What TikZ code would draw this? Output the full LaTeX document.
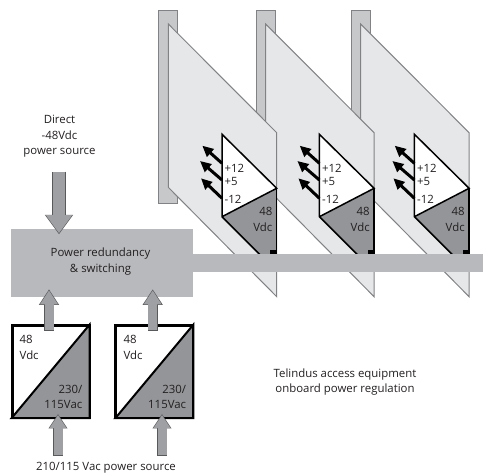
\documentclass[tikz,border=0pt]{standalone}
\usepackage{fontspec}
\setmainfont{Open Sans}
\usetikzlibrary{arrows.meta}

\definecolor{postgrey}{HTML}{C7C8CA}
\definecolor{cardgrey}{HTML}{E6E7E8}
\definecolor{edgegrey}{HTML}{808285}
\definecolor{busgrey}{HTML}{B8B9BC}
\definecolor{darkgrey}{HTML}{939598}
\definecolor{feedgrey}{HTML}{9FA0A3}
\definecolor{feededge}{HTML}{58595B}
\definecolor{textgrey}{HTML}{231F20}

\tikzset{
  tag/.style={inner sep=0pt,text=textgrey,font=\fontsize{11.4}{15.5}\selectfont},
  supply/.style={draw=black,line width=2pt,fill=white,inner sep=0pt,minimum width=76pt,minimum height=91.5pt},
  bus/.style={fill=busgrey,inner sep=0pt},
  outline/.style={draw=edgegrey,line width=1pt},
  regulator/.style={draw=black,line width=1.5pt,line join=miter},
  railarrow/.style={draw=black,line width=3pt,-{Triangle[length=11pt,width=10pt]}}
}

% two passes, outline first and grey on top
\newcommand{\feedarrow}[5]{
  \draw[feededge,line width=#3+1pt,-{Triangle[length=#4+1.5pt,width=#5+2pt]}] #1 -- #2;
  \draw[feedgrey,line width=#3,shorten <=0.5pt,shorten >=1.1pt,-{Triangle[length=#4,width=#5]}] #1 -- #2;
}

\begin{document}
\begin{tikzpicture}[x=1pt,y=-1pt]
  \useasboundingbox (0,0) rectangle (483,473);

  % cards, back to front
  \foreach \dx/\card in {192.4/c,97.4/b,0/a} {
    \begin{scope}[shift={(\dx,0)}]
      \draw[outline,fill=postgrey] (158.6,11) rectangle (177.6,204);
      \draw[outline,fill=cardgrey] (168.3,24) -- (276.7,132.7) -- (276.7,296.7) -- (168.3,187.3) -- cycle;

      \fill[darkgrey] (222,216.7) -- (276.7,188.3) -- (276.7,271.4) -- cycle;
      \fill[white] (222,134.3) -- (276.7,188.3) -- (222,216.7) -- cycle;
      \draw[regulator] (276.7,271.4) -- (222,216.7) -- (222,134.3) -- (276.7,188.3) -- (222,216.7);
      \draw[regulator] (276.7,188.3) -- (276.7,271.4);
      \node[fill=black,inner sep=0pt,minimum width=6.5pt,minimum height=4pt] (tab\card) at (273.7,252.5) {};

      \coordinate (rail1\card) at (222,163.3);
      \coordinate (rail2\card) at (222,180);
      \coordinate (rail3\card) at (222,198.3);
      \coordinate (tip1\card) at (202.3,145.7);
      \coordinate (tip2\card) at (200,161);
      \coordinate (tip3\card) at (201,178.3);
      \draw[railarrow] (rail1\card) -- (tip1\card);
      \draw[railarrow] (rail2\card) -- (tip2\card);
      \draw[railarrow] (rail3\card) -- (tip3\card);

      \node[tag,anchor=west] (plus12\card) at (224.5,168) {+12};
      \node[tag,anchor=west] (plus5\card) at (224.5,181.5) {+5};
      \node[tag,anchor=west] (minus12\card) at (224.5,199) {-12};
      \node[tag,anchor=east,align=right] (vdc\card) at (272.5,219.5) {48\\Vdc};
    \end{scope}
  }

  \node[bus,minimum width=295pt,minimum height=17.7pt] (bar) at (335.5,262.85) {};
  \node[bus,minimum width=182pt,minimum height=68pt] (switch) at (101.7,263.3) {};
  \node[tag,align=center] (switchtext) at (100.5,261.5) {Power redundancy\\\& switching};

  % supplies
  \foreach \name/\cx in {supplyA/50.5,supplyB/154.3} {
    \node[supply] (\name) at (\cx,371.5) {};
    \fill[darkgrey] (\name.south west) -- (\name.north east) -- (\name.south east) -- cycle;
    \draw[black,line width=2pt,line join=miter] (\name.south west) -- (\name.north east) -- (\name.south east) -- cycle;
    \draw[black,line width=2pt] (\name.south west) rectangle (\name.north east);
    \node[tag,anchor=north west,align=left] at ([shift={(8,10.5)}]\name.north west) {48\\Vdc};
    \node[tag,anchor=south east,align=right] at ([shift={(-7,-9)}]\name.south east) {230/\\115Vac};
  }

  \coordinate (directtail) at (59,171.7);
  \coordinate (directtip) at (59,234.3);
  \coordinate (outA) at (49,330.7);
  \coordinate (inA) at (49,289.3);
  \coordinate (outB) at (152.7,330.7);
  \coordinate (inB) at (152.7,289.3);
  \coordinate (acA) at (58,456);
  \coordinate (acAtip) at (58,414);
  \coordinate (acB) at (162,456);
  \coordinate (acBtip) at (162,414);

  \feedarrow{(directtail)}{(directtip)}{12.5pt}{18pt}{25pt}
  \feedarrow{(outA)}{(inA)}{9pt}{14pt}{17pt}
  \feedarrow{(outB)}{(inB)}{9pt}{14pt}{17pt}
  \feedarrow{(acA)}{(acAtip)}{9pt}{13pt}{16pt}
  \feedarrow{(acB)}{(acBtip)}{9pt}{13pt}{16pt}

  \begin{scope}[every node/.style={tag,align=center}]
    \node (direct) at (59.5,136.5) {Direct\\-48Vdc\\power source};
    \node (telindus) at (345,382) {Telindus access equipment\\onboard power regulation};
    \node (acsource) at (106,468) {210/115 Vac power source};
  \end{scope}

\end{tikzpicture}
\end{document}
